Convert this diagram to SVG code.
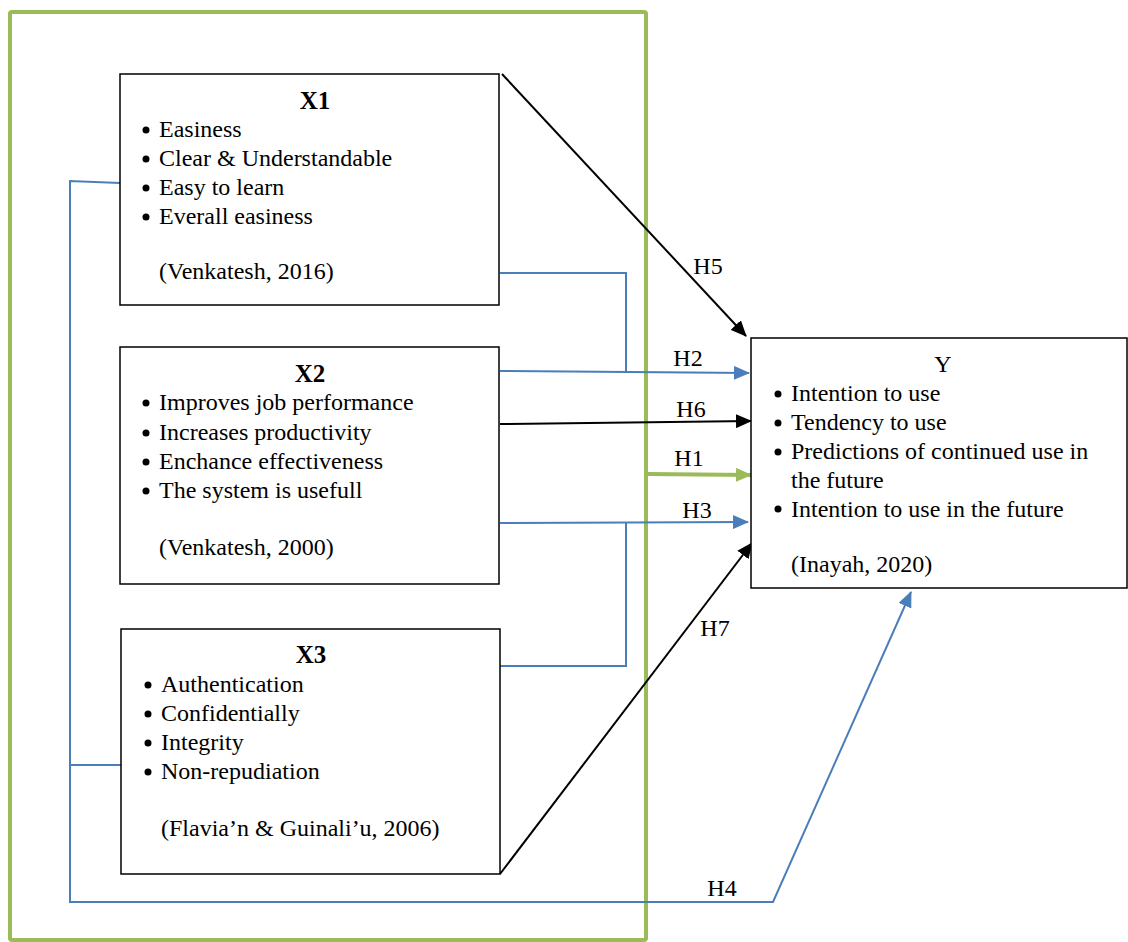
<svg xmlns="http://www.w3.org/2000/svg" width="1128" height="942" viewBox="0 0 1128 942">
<style>
text{font-family:"Liberation Serif","Times New Roman",serif;font-size:24px;fill:#000}
.b{font-weight:bold;font-size:25px}
.box{fill:#fff;stroke:#000;stroke-width:1.5}
.blue{fill:none;stroke:#4a7ebb;stroke-width:2}
.blk{fill:none;stroke:#000;stroke-width:2}
.grn{fill:none;stroke:#9bbb59;stroke-width:4}
.dot{fill:#000}
</style>
<defs>
<marker id="ab" markerUnits="userSpaceOnUse" markerWidth="16" markerHeight="14" refX="15" refY="7" orient="auto"><path d="M0,0 L16,7 L0,14 Z" fill="#4a7ebb"/></marker>
<marker id="ak" markerUnits="userSpaceOnUse" markerWidth="16" markerHeight="14" refX="15" refY="7" orient="auto"><path d="M0,0 L16,7 L0,14 Z" fill="#000"/></marker>
<marker id="ag" markerUnits="userSpaceOnUse" markerWidth="16" markerHeight="14" refX="15" refY="7" orient="auto"><path d="M0,0 L16,7 L0,14 Z" fill="#9bbb59"/></marker>
</defs>
<rect width="1128" height="942" fill="#fff"/>
<rect id="frame" x="10" y="12" width="636" height="928" class="grn" rx="2"/>
<g id="connectors">
<polyline class="blue" points="120,183 70,181 70,902 773,902 911,592" marker-end="url(#ab)"/>
<line class="blue" x1="70" y1="765" x2="121" y2="765"/>
<polyline class="blue" points="500,273 626,273 626,373"/>
<line class="blue" x1="500" y1="371" x2="749" y2="373" marker-end="url(#ab)"/>
<line class="blk" x1="500" y1="424" x2="751" y2="421" marker-end="url(#ak)"/>
<line class="grn" x1="647" y1="474" x2="751" y2="475" stroke-width="3" marker-end="url(#ag)"/>
<line class="blue" x1="500" y1="523" x2="748" y2="522" marker-end="url(#ab)"/>
<polyline class="blue" points="500,666 626,666 626,522"/>
<line class="blk" x1="502" y1="74" x2="746" y2="336" marker-end="url(#ak)"/>
<line class="blk" x1="500" y1="874" x2="752" y2="543" marker-end="url(#ak)"/>
<text x="708" y="274" text-anchor="middle">H5</text>
<text x="688" y="366" text-anchor="middle">H2</text>
<text x="691" y="417" text-anchor="middle">H6</text>
<text x="689" y="466" text-anchor="middle">H1</text>
<text x="697" y="518" text-anchor="middle">H3</text>
<text x="715" y="636" text-anchor="middle">H7</text>
<text x="722" y="896" text-anchor="middle">H4</text>
</g>
<g id="x1">
<rect class="box" x="120" y="74" width="379" height="231"/>
<text class="b" x="315" y="109" text-anchor="middle">X1</text>
<circle class="dot" cx="146" cy="130" r="3.5"/><text x="159" y="137">Easiness</text>
<circle class="dot" cx="146" cy="159" r="3.5"/><text x="159" y="166">Clear &amp; Understandable</text>
<circle class="dot" cx="146" cy="188" r="3.5"/><text x="159" y="195">Easy to learn</text>
<circle class="dot" cx="146" cy="217" r="3.5"/><text x="159" y="224">Everall easiness</text>
<text x="159" y="279">(Venkatesh, 2016)</text>
</g>
<g id="x2">
<rect class="box" x="120" y="347" width="379" height="237"/>
<text class="b" x="310" y="382" text-anchor="middle">X2</text>
<circle class="dot" cx="146" cy="403" r="3.5"/><text x="159" y="410">Improves job performance</text>
<circle class="dot" cx="146" cy="433" r="3.5"/><text x="159" y="440">Increases productivity</text>
<circle class="dot" cx="146" cy="462" r="3.5"/><text x="159" y="469">Enchance effectiveness</text>
<circle class="dot" cx="146" cy="491" r="3.5"/><text x="159" y="498">The system is usefull</text>
<text x="159" y="555">(Venkatesh, 2000)</text>
</g>
<g id="x3">
<rect class="box" x="121" y="629" width="379" height="245"/>
<text class="b" x="311" y="663" text-anchor="middle">X3</text>
<circle class="dot" cx="148" cy="685" r="3.5"/><text x="161" y="692">Authentication</text>
<circle class="dot" cx="148" cy="714" r="3.5"/><text x="161" y="721">Confidentially</text>
<circle class="dot" cx="148" cy="743" r="3.5"/><text x="161" y="750">Integrity</text>
<circle class="dot" cx="148" cy="772" r="3.5"/><text x="161" y="779">Non-repudiation</text>
<text x="161" y="836">(Flavia’n &amp; Guinali’u, 2006)</text>
</g>
<g id="y">
<rect class="box" x="751" y="338" width="376" height="250"/>
<text x="943" y="372" text-anchor="middle">Y</text>
<circle class="dot" cx="778" cy="394" r="3.5"/><text x="791" y="401">Intention to use</text>
<circle class="dot" cx="778" cy="423" r="3.5"/><text x="791" y="430">Tendency to use</text>
<circle class="dot" cx="778" cy="452" r="3.5"/><text x="791" y="459">Predictions of continued use in</text>
<text x="791" y="488">the future</text>
<circle class="dot" cx="778" cy="509" r="3.5"/><text x="791" y="517">Intention to use in the future</text>
<text x="791" y="572">(Inayah, 2020)</text>
</g>
</svg>
